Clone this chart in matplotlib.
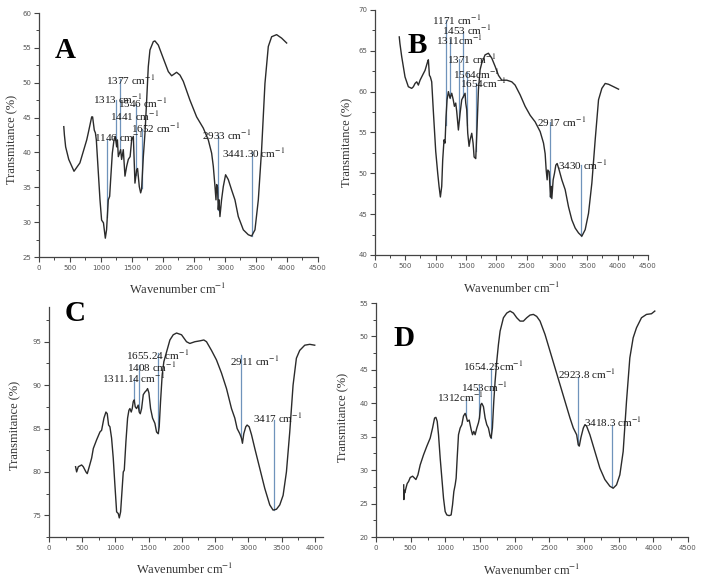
import numpy as np
import matplotlib
matplotlib.use("Agg")
import matplotlib.pyplot as plt
from matplotlib.ticker import MultipleLocator, AutoMinorLocator

plt.rcParams['font.family'] = ['Liberation Serif', 'DejaVu Serif']
plt.rcParams['mathtext.fontset'] = 'stix'

# ---- panel A ----
wn_a = [400, 410, 430, 480, 565, 660, 770, 795, 850, 865, 892, 910, 925, 984, 1010, 1040, 1070, 1090,
        1118, 1140, 1156, 1183, 1210, 1230, 1253, 1265, 1280, 1317, 1333, 1360, 1387, 1414, 1441, 1470,
        1495, 1522, 1548, 1575, 1590, 1618, 1640, 1655, 1683, 1710, 1737, 1763, 1790, 1844, 1870, 1925,
        2005, 2086, 2140, 2220, 2274, 2328, 2435, 2543, 2650, 2731, 2785, 2812, 2839, 2855, 2866, 2880,
        2892, 2905, 2919, 2945, 2973, 3010, 3054, 3108, 3161, 3215, 3296, 3376, 3430, 3484, 3538, 3591,
        3645, 3699, 3753, 3833, 3914, 3995]
tr_a = [43.7, 42.5, 40.8, 39.0, 37.3, 38.5, 41.8, 42.8, 45.1, 45.1, 43.2, 42.8, 41.8, 33.2, 30.3, 29.9, 27.7, 28.9,
        33.2, 33.7, 36.1, 39.9, 41.8, 42.3, 40.8, 41.8, 39.4, 40.4, 39.0, 40.4, 36.6, 38.0, 39.0, 39.4,
        41.8, 42.3, 35.6, 37.5, 37.7, 35.1, 34.2, 34.7, 39.4, 42.8, 47.5, 52.3, 54.7, 55.9, 56.0, 55.4,
        53.5, 51.6, 51.0, 51.5, 51.1, 50.2, 47.5, 45.1, 43.5, 41.8, 39.9, 38.0, 35.1, 33.2, 35.4, 35.0,
        31.8, 33.2, 30.8, 33.2, 35.1, 36.8, 36.1, 34.6, 33.2, 30.8, 28.9, 28.2, 28.0, 28.9, 33.2, 40.4,
        49.9, 55.2, 56.6, 56.9, 56.4, 55.7]

# ---- panel B ----
wn_b = [400, 411, 440, 495, 550, 605, 633, 660, 688, 715, 743, 797, 825, 869, 880, 897, 913, 935, 962,
        1001, 1034, 1056, 1078, 1100, 1116, 1138, 1155, 1171, 1188, 1210, 1237, 1265, 1290, 1309, 1331,
        1347, 1375, 1402, 1430, 1457, 1485, 1496, 1512, 1529, 1551, 1568, 1595, 1617, 1634, 1661, 1683,
        1705, 1733, 1760, 1815, 1870, 1925, 1980, 2035, 2090, 2173, 2255, 2310, 2393, 2475, 2558, 2640,
        2723, 2778, 2805, 2822, 2838, 2849, 2871, 2893, 2904, 2915, 2937, 2959, 2981, 3003, 3036, 3080,
        3135, 3190, 3245, 3300, 3355, 3410, 3465, 3520, 3575, 3630, 3685, 3740, 3795, 3850, 3933, 4015]
tr_b = [66.7, 65.9, 64.3, 61.8, 60.6, 60.4, 60.6, 61.0, 61.2, 60.8, 61.4, 62.2, 62.6, 63.7, 63.9, 62.0, 61.8, 61.2, 57.6,
        52.7, 50.0, 48.4, 47.1, 48.4, 51.6, 54.1, 53.7, 56.9, 59.0, 60.0, 59.2, 59.8, 59.0, 58.2, 58.6,
        57.6, 55.3, 57.3, 59.0, 59.4, 59.8, 58.6, 57.8, 54.9, 53.3, 54.1, 54.9, 53.7, 52.0, 51.8, 55.7,
        60.2, 62.7, 63.5, 64.5, 64.7, 64.1, 63.1, 62.0, 61.4, 61.4, 61.2, 60.8, 59.6, 58.2, 57.1, 56.3,
        55.1, 53.7, 52.4, 50.4, 49.2, 50.4, 50.2, 47.1, 48.4, 46.9, 49.2, 50.0, 51.0, 51.2, 50.4, 49.2,
        48.0, 45.9, 44.3, 43.3, 42.7, 42.3, 43.1, 45.1, 48.8, 54.1, 59.0, 60.4, 61.0, 60.9, 60.6, 60.3]

# ---- panel C ----
wn_c = [400, 416, 441, 491, 516, 556, 576, 606, 642, 667, 717, 767, 792, 807, 827, 857, 877, 897, 917,
        942, 967, 992, 1018, 1043, 1058, 1078, 1098, 1118, 1133, 1158, 1183, 1203, 1218, 1238, 1253, 1268,
        1283, 1298, 1318, 1343, 1358, 1374, 1394, 1419, 1444, 1469, 1484, 1504, 1529, 1559, 1594, 1619,
        1644, 1659, 1679, 1704, 1729, 1769, 1820, 1870, 1920, 1995, 2070, 2120, 2196, 2271, 2331, 2371,
        2446, 2521, 2596, 2672, 2747, 2797, 2832, 2872, 2897, 2912, 2932, 2962, 2982, 3013, 3048, 3098,
        3173, 3248, 3323, 3373, 3424, 3474, 3524, 3574, 3624, 3674, 3724, 3774, 3850, 3925, 4000]
tr_c = [80.6, 80.0, 80.6, 80.8, 80.6, 80.0, 79.8, 80.6, 81.6, 82.7, 83.7, 84.6, 84.8, 85.4, 86.2, 86.9, 86.7, 85.4, 85.2,
        83.9, 81.6, 78.5, 75.4, 75.2, 74.7, 75.4, 77.7, 80.0, 80.2, 83.5, 86.2, 87.1, 87.3, 86.9, 87.3, 88.1,
        88.3, 87.5, 87.3, 87.7, 86.9, 86.7, 87.3, 88.9, 89.2, 89.4, 89.6, 89.1, 87.3, 86.2, 85.6, 84.6,
        84.4, 85.2, 88.1, 91.2, 92.7, 93.8, 95.2, 95.8, 96.0, 95.8, 95.0, 94.8, 95.0, 95.1, 95.2, 95.0,
        94.0, 92.9, 91.4, 89.6, 87.3, 86.2, 85.0, 84.4, 83.9, 83.3, 84.4, 85.2, 85.4, 85.2, 84.3, 82.7,
        80.4, 78.1, 76.2, 75.6, 75.7, 76.2, 77.3, 80.0, 84.6, 90.0, 93.1, 94.0, 94.6, 94.7, 94.6]

# ---- panel D ----
wn_d = [400, 402, 405, 415, 432, 450, 470, 494, 528, 557, 576, 605, 638, 686, 734, 782, 816, 845, 864,
        883, 902, 926, 950, 974, 998, 1022, 1055, 1084, 1104, 1123, 1142, 1156, 1171, 1190, 1214, 1238,
        1262, 1286, 1300, 1320, 1344, 1372, 1392, 1411, 1430, 1454, 1478, 1492, 1512, 1526, 1550, 1574,
        1598, 1622, 1646, 1660, 1679, 1699, 1718, 1742, 1766, 1790, 1838, 1886, 1934, 1982, 2030, 2078,
        2126, 2174, 2222, 2270, 2318, 2366, 2438, 2510, 2582, 2654, 2726, 2798, 2846, 2894, 2917, 2932,
        2956, 2990, 3013, 3037, 3085, 3157, 3229, 3301, 3373, 3421, 3469, 3517, 3565, 3613, 3661, 3709,
        3757, 3829, 3901, 3973, 4021]
tr_d = [27.8, 25.6, 27.0, 26.6, 27.3, 28.0, 28.3, 28.9, 29.1, 28.8, 28.6, 29.3, 30.8, 32.3, 33.6, 34.8, 36.3, 37.8, 37.9,
        37.3, 35.3, 31.8, 28.8, 25.8, 23.8, 23.3, 23.2, 23.3, 24.8, 26.8, 27.8, 28.8, 31.8, 35.3, 36.3, 36.8,
        38.1, 38.5, 38.1, 37.3, 37.5, 36.1, 35.3, 35.8, 35.3, 36.3, 37.1, 37.8, 39.8, 40.0, 39.5, 37.8,
        36.8, 36.3, 35.1, 34.8, 36.3, 40.3, 43.3, 46.3, 48.8, 50.8, 52.8, 53.5, 53.8, 53.5, 52.8, 52.3,
        52.3, 52.8, 53.2, 53.3, 53.0, 52.3, 50.3, 47.8, 45.3, 42.8, 40.3, 37.8, 36.3, 35.3, 33.8, 33.6,
        34.9, 36.3, 36.8, 36.6, 35.3, 32.8, 30.3, 28.6, 27.6, 27.3, 27.8, 29.3, 32.8, 40.3, 46.8, 49.8,
        51.3, 52.8, 53.3, 53.4, 53.8]

# peak annotations: text, marker line wavenumber, line top, label x, label y
peaks_a = ['1146 ', '1313 ', '1377 ', '1441 ', '1546 ', '1652 ', '2933 ', '3441.30 ']
pline_a = [1102, 1237, 1306, None, 1565, 1656, 2892, 3430]
ptop_a = [42.0, 47.5, 50.5, None, 47.0, 43.3, 42.5, 40.0]
plx_a = [892, 876, 1081, 1145, 1280, 1484, 2634, 2946]
ply_a = [42.2, 47.7, 50.4, 45.2, 47.1, 43.5, 42.5, 39.9]

peaks_b = ['1171 ', '1453 ', '1311', '1371 ', '1564', '1654', '2917 ', '3430 ']
pline_b = [1166, 1452, 1237, 1391, 1523, 1666, 2893, 3399]
ptop_b = [68.8, 67.3, 66.5, 64.0, 62.4, 61.0, 56.3, 51.0]
plx_b = [946, 1111, 1001, 1194, 1282, 1403, 2668, 3025]
ply_b = [68.8, 67.5, 66.3, 64.0, 62.2, 61.0, 56.3, 51.0]

peaks_c = ['1311.14 ', '1408 ', '1655.24 ', '2911 ', '3417 ']
pline_c = [1283, 1353, 1634, 2897, 3383]
ptop_c = [90.8, 92.3, 93.7, 93.5, 86.0]
plx_c = [792, 1168, 1153, 2722, 3073]
ply_c = [90.8, 92.1, 93.5, 92.8, 86.2]

peaks_d = ['1312', '1453', '1654.25', '2923.8 ', '3418.3 ']
pline_d = [1300, 1492, 1660, 2917, 3397]
ptop_d = [40.8, 42.8, 45.3, 44.0, 36.8]
plx_d = [878, 1228, 1248, 2629, 3004]
ply_d = [40.9, 42.5, 45.5, 44.4, 37.2]

panels = [
    dict(name='A', wn=wn_a, tr=tr_a, peaks=peaks_a, pl=pline_a, pt=ptop_a, lx=plx_a, ly=ply_a,
         rect=[0.0553, 0.5584, 0.3957, 0.4192], xlim=(0, 4500), ylim=(25, 60), yt=5,
         letter=(0.095, 0.848), ylab=(-0.097, 0.48), xlab=(0.498, -0.131)),
    dict(name='B', wn=wn_b, tr=tr_b, peaks=peaks_b, pl=pline_b, pt=ptop_b, lx=plx_b, ly=ply_b,
         rect=[0.5319, 0.5619, 0.3872, 0.421], xlim=(0, 4500), ylim=(40, 70), yt=5,
         letter=(0.156, 0.853), ylab=(-0.103, 0.46), xlab=(0.50, -0.135)),
    dict(name='C', wn=wn_c, tr=tr_c, peaks=peaks_c, pl=pline_c, pt=ptop_c, lx=plx_c, ly=ply_c,
         rect=[0.0695, 0.0773, 0.3887, 0.3952], xlim=(0, 4125), ylim=(72.5, 99), yt=5,
         letter=(0.095, 0.97), ylab=(-0.124, 0.487), xlab=(0.496, -0.143)),
    dict(name='D', wn=wn_d, tr=tr_d, peaks=peaks_d, pl=pline_d, pt=ptop_d, lx=plx_d, ly=ply_d,
         rect=[0.5333, 0.0773, 0.4426, 0.402], xlim=(0, 4500), ylim=(20, 55), yt=5,
         letter=(0.09, 0.85), ylab=(-0.106, 0.51), xlab=(0.50, -0.141)),
]

fig = plt.figure(figsize=(7.05, 5.82), dpi=100)

for p in panels:
    ax = fig.add_axes(p['rect'])
    ax.plot(p['wn'], p['tr'], color='#2b2b2b', lw=1.0, zorder=3)
    for txt, lx0, top, tx, ty in zip(p['peaks'], p['pl'], p['pt'], p['lx'], p['ly']):
        if lx0 is not None:
            bot = np.interp(lx0, p['wn'], p['tr'])
            ax.plot([lx0, lx0], [bot, top], color='#6f93bb', lw=0.9, zorder=2)
        ax.text(tx, ty, txt + 'cm$^{-1}$', fontsize=8, va='center', ha='left', color='#1a1a1a', zorder=4)
    ax.set_xlim(*p['xlim'])
    ax.set_ylim(*p['ylim'])
    ax.xaxis.set_major_locator(MultipleLocator(500))
    ax.xaxis.set_minor_locator(MultipleLocator(250))
    ax.yaxis.set_major_locator(MultipleLocator(p['yt']))
    ax.yaxis.set_minor_locator(AutoMinorLocator(2))
    for s in ['top', 'right']:
        ax.spines[s].set_visible(False)
    for s in ['left', 'bottom']:
        ax.spines[s].set_color('#444444')
        ax.spines[s].set_linewidth(0.9)
    ax.tick_params(which='major', direction='out', length=3.5, width=0.8, color='#444444',
                   labelsize=5, labelcolor='#555555', pad=2)
    ax.tick_params(which='minor', direction='out', length=2, width=0.7, color='#444444')
    for lab in ax.get_xticklabels() + ax.get_yticklabels():
        lab.set_family('DejaVu Sans')
    ax.text(p['letter'][0], p['letter'][1], p['name'], transform=ax.transAxes, fontsize=21,
            fontweight='bold', ha='center', va='center', color='black')
    ax.text(p['ylab'][0], p['ylab'][1], 'Transmitance (%)', transform=ax.transAxes, rotation=90,
            fontsize=9, ha='center', va='center', color='#333333')
    ax.text(p['xlab'][0], p['xlab'][1], 'Wavenumber cm$^{-1}$', transform=ax.transAxes,
            fontsize=9, ha='center', va='center', color='#333333')

fig.savefig('out.png', dpi=100)
